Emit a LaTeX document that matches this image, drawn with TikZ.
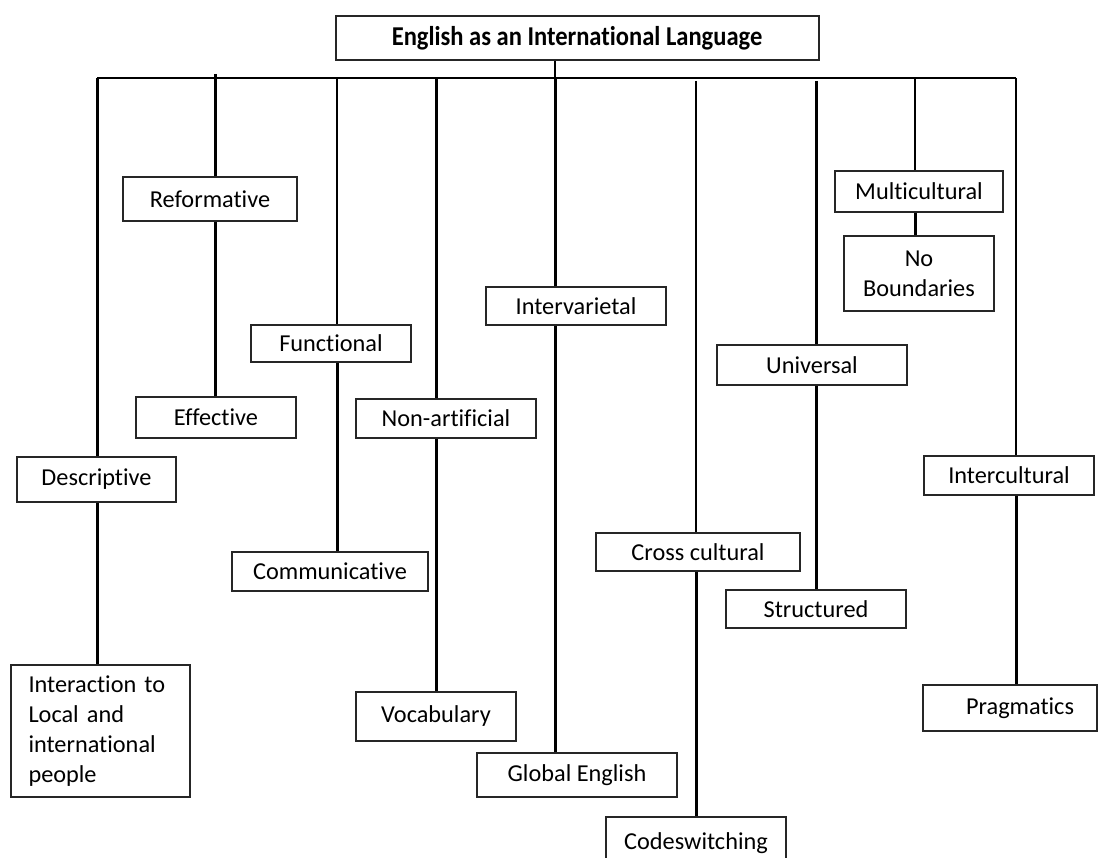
\documentclass[tikz,border=0pt]{standalone}
\usepackage{fontspec}
\setmainfont{Carlito}[Ligatures=NoCommon]
\begin{document}
\begin{tikzpicture}[x=1pt,y=-1pt,
  box/.style={draw=black!85, line width=1.3pt, inner sep=0pt, align=center,
    font=\fontsize{24.3}{30}\selectfont},
  conn/.style={line width=3pt},
  thinconn/.style={line width=2.3pt},
]
\clip (0,0) rectangle (1099,858);
\fill[white] (0,0) rectangle (1099,858);

% top node
\node[box, line width=2pt, minimum width=483, minimum height=44,
      font=\fontsize{24.3}{30}\selectfont\bfseries] (top) at (577,38)
      {\scalebox{1.01}[1.12]{English as an International Language}};

% bus coordinates (columns)
\coordinate (b1) at (97,78);
\coordinate (b2) at (215,78);
\coordinate (b3) at (337,78);
\coordinate (b4) at (436,78);
\coordinate (b5) at (555,78);
\coordinate (b6) at (696,78);
\coordinate (b7) at (816,78);
\coordinate (b8) at (915,78);
\coordinate (b9) at (1016,78);

% boxes
\node[box, minimum width=174, minimum height=44] (reform) at (210,199) {Reformative};
\node[box, minimum width=160, minimum height=41] (effect) at (216,417.5) {Effective};
\node[box, minimum width=160, minimum height=37] (funct) at (331,343.5) {Functional};
\node[box, minimum width=196, minimum height=39] (commun) at (330,571.5) {Communicative};
\node[box, minimum width=180, minimum height=39] (nonart) at (446,418.5) {Non-artificial};
\node[box, minimum width=160, minimum height=49] (vocab) at (436,716.5) {Vocabulary};
\node[box, minimum width=180, minimum height=38] (interv) at (576,306) {Intervarietal};
\node[box, minimum width=200, minimum height=44] (global) at (577,775) {Global English};
\node[box, minimum width=204, minimum height=38] (cross) at (698,552) {Cross cultural};
\node[box, minimum width=180, minimum height=52] (codes) at (696,843) {\raisebox{3pt}{Codeswitching}};
\node[box, minimum width=190, minimum height=40] (univ) at (812,365) {Universal};
\node[box, minimum width=180, minimum height=38] (struct) at (816,609) {Structured};
\node[box, minimum width=168, minimum height=41] (multi) at (919,191.5) {Multicultural};
\node[box, minimum width=150, minimum height=75] (nobound) at (919,273.5) {No\\Boundaries};
\node[box, minimum width=170, minimum height=39] (intercult) at (1009,475.5) {Intercultural};
\node[box, minimum width=174, minimum height=46] (prag) at (1010,708) {\hspace*{20pt}Pragmatics};
\node[box, minimum width=159, minimum height=45] (descr) at (96.5,479.5) {Descriptive};
\node[box, minimum width=179, minimum height=132, text width=144, inner xsep=17.5, align=left]
  (interact) at (100.5,731) {Interaction to\\Local and\\international\\people};

% connectors
\draw[line width=2.5pt] (top.south -| b5) -- (b5);
\draw[line width=2.5pt] (b1) -- (b9);

\draw[conn] (b1) -- (descr.north -| b1);
\draw[conn] (descr.south -| b1) -- (interact.north -| b1);

\draw[conn] ([yshift=4]b2) -- (reform.north -| b2);
\draw[conn] (reform.south -| b2) -- (effect.north -| b2);

\draw[thinconn] (b3) -- (funct.north -| b3);
\draw[conn] (funct.south -| b3) -- (commun.north -| b3);

\draw[conn] (b4) -- (nonart.north -| b4);
\draw[conn] (nonart.south -| b4) -- (vocab.north -| b4);

\draw[conn] (b5) -- (interv.north -| b5);
\draw[conn] (interv.south -| b5) -- (global.north -| b5);

\draw[thinconn] ([yshift=-3]b6) -- (cross.north -| b6);
\draw[conn] (cross.south -| b6) -- (codes.north -| b6);

\draw[conn] ([yshift=-3]b7) -- (univ.north -| b7);
\draw[conn] (univ.south -| b7) -- (struct.north -| b7);

\draw[thinconn] (b8) -- (multi.north -| b8);
\draw[conn] (multi.south -| b8) -- (nobound.north -| b8);

\draw[thinconn] (b9) -- (intercult.north -| b9);
\draw[conn] (intercult.south -| b9) -- (prag.north -| b9);
\end{tikzpicture}
\end{document}
